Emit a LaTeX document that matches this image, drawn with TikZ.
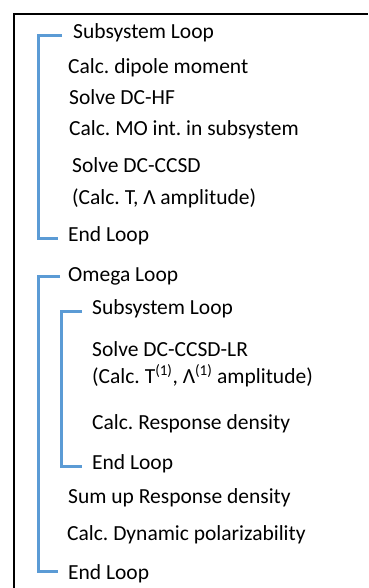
\documentclass[tikz,border=0pt]{standalone}
\usepackage{fontspec}
\setmainfont{Carlito}
\definecolor{loopblue}{RGB}{91,155,213}
\begin{document}
\begin{tikzpicture}[x=1pt,y=-1pt,
  txt/.style={anchor=west,inner sep=0pt,text height=14pt,text depth=4pt,font=\fontsize{21.5}{25}\selectfont\frenchspacing},
  br/.style={draw=loopblue,line width=3pt},
  frame/.style={draw=black,line width=1.4pt}]
\useasboundingbox (0,0) rectangle (368,588);
\draw[frame] (14,588) -- (14,14) -- (368,14);
% texts
\node[txt] (s1)  at (73,34)  {Subsystem Loop};
\node[txt] (d1)  at (68,69)  {Calc. dipole moment};
\node[txt] (hf)  at (69,100) {Solve DC-HF};
\node[txt] (mo)  at (69,131) {Calc. MO int. in subsystem};
\node[txt] (cc1) at (72,167) {Solve DC-CCSD};
\node[txt] (cc2) at (72,199) {(Calc. T, Λ amplitude)};
\node[txt] (e1)  at (68,236) {End Loop};
\node[txt] (om)  at (68,276) {Omega Loop};
\node[txt] (s2)  at (92,309) {Subsystem Loop};
\node[txt] (lr1) at (92,351) {Solve DC-CCSD-LR};
\node[txt] (lr2) at (92,378) {(Calc. T\textsuperscript{(1)}, Λ\textsuperscript{(1)} amplitude)};
\node[txt] (rd)  at (92,424) {Calc. Response density};
\node[txt] (e2)  at (92,464) {End Loop};
\node[txt] (su)  at (68,498) {Sum up Response density};
\node[txt] (dp)  at (67,535) {Calc. Dynamic polarizability};
\node[txt] (e3)  at (68,574) {End Loop};
% brackets
\draw[br] ([xshift=-11pt,yshift=-2pt]s1.west) -- ++(-24,0) |- ([xshift=-10pt,yshift=-2pt]e1.west);
\draw[br] ([xshift=-8pt]om.west) -- ++(-22,0) |- ([xshift=-10pt,yshift=3pt]e3.west);
\draw[br] ([xshift=-10pt,yshift=-2pt]s2.west) -- ++(-21,0) |- ([xshift=-10pt,yshift=-2pt]e2.west);
\end{tikzpicture}
\end{document}
